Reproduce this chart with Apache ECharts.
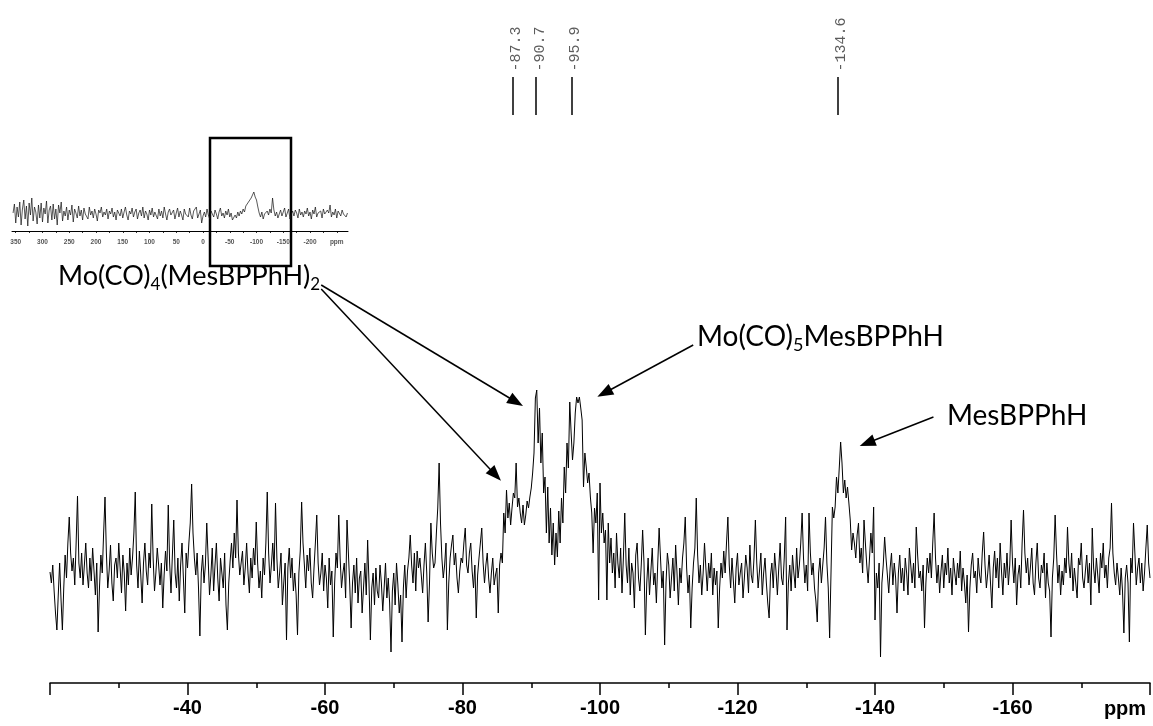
<!DOCTYPE html>
<html><head><meta charset="utf-8">
<script src="https://cdn.jsdelivr.net/npm/echarts@6.0.0/dist/echarts.min.js"></script>
<style>html,body{margin:0;padding:0;background:#fff}#c{width:1153px;height:726px}</style>
</head><body><div id="c"></div>
<script>
// ---- main spectrum (ppm axis, 0.2 ppm sampling) ----
const ppmStart = -20;
const ppmStep = -0.2;
const intensity = [
111,100,118,92,70,53,88,120,84,53,95,128,105,140,166,130,112,125,98,140,
187,120,105,130,98,118,140,110,95,125,102,135,112,88,120,51,96,128,110,150,
186,130,95,112,138,100,82,118,125,105,140,115,90,128,110,72,120,98,135,108,
125,150,191,118,95,132,108,80,120,140,112,98,130,115,179,125,92,110,135,118,
98,120,75,108,132,112,178,120,90,128,163,110,95,125,82,118,140,105,70,130,
115,140,160,199,150,125,108,130,95,47,110,128,100,118,160,125,88,108,135,92,
118,140,105,82,125,110,95,130,78,53,100,122,140,115,150,125,183,130,108,120,
132,98,115,140,110,90,125,105,135,118,161,120,95,112,85,125,108,140,191,130,
100,118,140,112,180,125,95,110,130,78,100,120,43,115,135,105,125,92,110,88,
48,110,132,181,140,118,95,128,112,135,100,85,115,140,168,120,98,110,130,92,
118,105,75,125,98,112,46,100,130,115,168,125,95,110,120,85,163,130,98,55,
100,118,90,125,80,105,112,70,95,120,88,143,100,43,95,110,78,115,92,85,
118,100,72,95,120,85,105,80,31,92,110,78,120,98,70,88,41,95,118,85,
112,125,148,118,100,130,92,132,115,125,108,90,118,140,110,61,100,160,130,115,
120,150,175,220,160,125,105,118,140,53,100,125,138,148,118,130,105,90,112,125,
120,140,155,118,110,130,140,112,95,118,65,108,125,140,155,120,100,118,130,105,
90,110,125,98,108,115,70,118,130,120,170,150,193,165,180,158,175,190,185,220,
176,185,170,160,178,158,168,182,175,186,195,210,230,285,293,240,275,220,250,190,
206,150,196,140,175,128,160,118,150,126,172,140,185,160,216,190,240,215,281,250,
223,240,270,286,280,286,275,263,196,230,216,200,210,186,170,130,175,160,190,83,
200,150,170,140,153,83,160,120,145,110,130,95,150,120,105,135,90,125,170,118,
100,135,88,120,110,75,128,140,105,92,118,153,120,48,100,125,88,112,135,98,
110,80,120,155,125,95,112,38,100,130,118,85,105,125,92,138,110,78,115,100,
125,140,166,115,90,108,55,95,120,135,185,128,100,118,88,110,140,115,92,120,
105,130,88,115,98,112,55,95,120,105,132,110,140,166,118,95,125,102,80,115,
130,98,110,120,85,105,128,115,90,138,108,100,125,163,120,95,112,130,88,110,
125,100,80,65,108,120,95,130,112,88,115,140,105,98,125,166,53,100,118,92,
128,110,95,135,105,118,140,170,125,100,118,92,170,130,108,120,95,82,61,110,
125,100,118,135,166,120,95,45,110,176,165,176,206,190,215,241,220,190,203,185,
196,180,163,133,150,140,125,148,160,120,135,110,163,140,118,100,125,150,130,176,
63,110,95,120,26,100,118,146,125,108,90,115,130,98,120,105,70,110,128,100,
115,92,125,110,88,135,118,100,120,95,156,128,105,112,92,118,55,100,125,110,
130,105,140,170,125,100,118,90,112,128,95,120,108,135,100,115,88,125,110,98,
120,105,132,92,115,100,80,108,51,95,118,130,105,112,90,125,108,100,130,151,
118,95,110,128,100,75,115,132,105,125,95,140,112,88,120,105,130,98,118,163,
120,100,125,78,108,118,95,140,173,130,110,125,98,115,135,100,88,120,140,105,
95,118,110,130,85,120,100,92,46,105,125,168,130,100,118,88,112,98,125,110,
156,120,105,130,92,115,100,85,125,118,140,105,95,112,128,100,120,78,155,115,
100,125,108,90,130,115,140,105,118,95,125,135,180,130,110,98,120,105,88,115,
92,50,105,118,100,41,125,110,160,130,98,115,125,100,120,92,110,135,158,120,105
];
// ---- inset (full range) spectrum, 2.5 ppm sampling ----
const insetPpmStart = 355;
const insetPpmStep = -2.5;
const insetIntensity = [
18,27,8,24,14,29,6,22,31,12,
25,5,28,16,33,10,24,19,7,26,
13,28,9,23,17,30,8,21,25,11,
27,12,22,6,26,18,29,10,20,15,
24,11,21,16,26,9,22,18,13,25,
15,21,11,23,17,19,12,24,16,20,
13,22,17,10,21,18,24,14,19,16,
22,12,20,17,23,14,19,11,21,18,
15,22,13,19,24,16,11,20,17,23,
14,19,22,12,18,21,15,24,13,20,
17,11,21,16,23,14,19,18,12,22,
15,20,13,24,17,11,19,22,16,18,
21,12,18,23,14,20,16,11,22,17,
19,14,23,16,12,20,18,24,13,17,
21,8,15,19,14,22,16,12,20,17,
14,21,17,12,19,23,15,18,13,20,
16,22,14,18,11,10,16,13,19,15,
20,17,22,19,25,23,29,27,33,36,
39,34,31,24,18,14,19,12,17,15,
20,16,22,18,33,21,15,19,13,17,
21,15,19,23,14,18,22,12,17,20,
15,21,18,13,22,16,19,14,20,17,
23,15,19,12,21,17,24,14,18,16,
20,13,22,17,15,21,18,26,14,19,
16,22,13,20,18,15,21,17,19,14,
18
];
const insetLabelValues = [350,300,250,200,150,100,50,0,-50,-100,-150,-200,-250];
const insetTickValues = [350,325,300,275,250,225,200,175,150,125,100,75,50,25,0,-25,-50,-75,-100,-125,-150,-175,-200,-225,-250];
// ---- peak picks ----
const peakPpm = [-87.3, -90.7, -95.9, -134.6];
// ---- annotation labels ----
const labelComplex2 = ['Mo(CO)', '4', '(MesBPPhH)', '2'];
const labelComplex1 = ['Mo(CO)', '5', 'MesBPPhH'];
const labelLigand = 'MesBPPhH';

// layout config (annotation geometry, not data)
const arrows = [
  {from: [-59.45, 398], to: [-87.8, 281]},
  {from: [-59.45, 394], to: [-84.8, 208]},
  {from: [-113.56, 338], to: [-100.64, 290]},
  {from: [-148.5, 266], to: [-138.86, 240]}
];
const peakLineBottom = 568, peakLineTop = 606, peakLabelBase = 615;

const mainData = intensity.map((v, i) => [+(ppmStart + ppmStep * i).toFixed(2), v]);
const insetData = insetIntensity.map((v, i) => [+(insetPpmStart + insetPpmStep * i).toFixed(2), v]);

const chart = echarts.init(document.getElementById('c'), null, {renderer: 'canvas'});
const annFont = 'Lato';
const nStyle = {fontSize: 28, fontFamily: annFont, fill: '#000', lineHeight: 34};
const sStyle = {fontSize: 18, fontFamily: annFont, fill: '#000', lineHeight: 34, verticalAlign: 'bottom'};
const nStyleB = {fontSize: 27, fontFamily: annFont, fill: '#000', lineHeight: 34};
const sStyleB = {fontSize: 17, fontFamily: annFont, fill: '#000', lineHeight: 34, verticalAlign: 'bottom'};

chart.setOption({
  animation: false,
  backgroundColor: '#fff',
  grid: [
    {left: 50, right: 0, top: 0, bottom: 43},
    {left: 12, right: 805, top: 171, bottom: 495}
  ],
  xAxis: [
    {
      type: 'value', gridIndex: 0, min: -180, max: -20, interval: 20, inverse: true,
      axisLine: {onZero: false, lineStyle: {color: '#000', width: 1.5}},
      axisTick: {length: 12, lineStyle: {color: '#000', width: 1.5}},
      minorTick: {show: true, splitNumber: 2, length: 5, lineStyle: {color: '#000', width: 1.5}},
      splitLine: {show: false}, minorSplitLine: {show: false},
      axisLabel: {
        fontFamily: 'Liberation Sans', fontWeight: 'bold', fontSize: 20, color: '#000', margin: 15,
        formatter: v => (v === -20 || v === -180) ? '' : String(v)
      }
    },
    {
      type: 'value', gridIndex: 1, min: -271, max: 357, inverse: true,
      axisLine: {onZero: false, lineStyle: {color: '#000', width: 1}},
      axisTick: {customValues: insetTickValues, length: 2, lineStyle: {color: '#000', width: 0.8}},
      splitLine: {show: false},
      axisLabel: {
        customValues: insetLabelValues, fontFamily: 'Liberation Sans', fontWeight: 'bold',
        fontSize: 6.5, color: '#555', margin: 8,
        formatter: v => v === -250 ? 'ppm' : String(v)
      }
    }
  ],
  yAxis: [
    {type: 'value', gridIndex: 0, min: 0, max: 683, show: false},
    {type: 'value', gridIndex: 1, min: 0, max: 60, show: false}
  ],
  series: [
    {
      type: 'line', xAxisIndex: 0, yAxisIndex: 0, data: mainData, showSymbol: false,
      lineStyle: {color: '#000', width: 1}, silent: true,
      markLine: {
        silent: true, symbol: ['none', 'triangle'], symbolSize: [12, 16],
        lineStyle: {color: '#000', width: 1.5, type: 'solid'},
        label: {show: false}, emphasis: {disabled: true},
        data: arrows.map(a => [{coord: a.from}, {coord: a.to}])
      }
    },
    {
      type: 'scatter', xAxisIndex: 0, yAxisIndex: 0, symbol: 'circle', symbolSize: 1,
      itemStyle: {color: 'rgba(0,0,0,0)'}, silent: true,
      data: peakPpm.map(p => [p, peakLabelBase]),
      label: {
        show: true, position: [4, 4], rotate: 90, align: 'left', verticalAlign: 'middle',
        fontFamily: 'Liberation Mono', fontSize: 15, color: '#333',
        formatter: p => p.value[0].toFixed(1)
      },
      markLine: {
        silent: true, symbol: ['none', 'none'],
        lineStyle: {color: '#000', width: 1.5, type: 'solid'},
        label: {show: false}, emphasis: {disabled: true},
        data: peakPpm.map(p => [{coord: [p, peakLineBottom]}, {coord: [p, peakLineTop]}])
      }
    },
    {
      type: 'line', xAxisIndex: 1, yAxisIndex: 1, data: insetData, showSymbol: false,
      lineStyle: {color: '#111', width: 0.7}, silent: true
    }
  ],
  graphic: [
    {
      type: 'text', x: 58, y: 276,
      style: {
        text: `{n|${labelComplex2[0]}}{s|${labelComplex2[1]}}{n|${labelComplex2[2]}}{s|${labelComplex2[3]}}`,
        rich: {n: nStyleB, s: sStyleB}, verticalAlign: 'middle', align: 'left'
      }
    },
    {
      type: 'text', x: 697, y: 337,
      style: {
        text: `{n|${labelComplex1[0]}}{s|${labelComplex1[1]}}{n|${labelComplex1[2]}}`,
        rich: {n: nStyle, s: sStyle}, verticalAlign: 'middle', align: 'left'
      }
    },
    {
      type: 'text', x: 947, y: 416,
      style: {text: `{n|${labelLigand}}`, rich: {n: nStyle}, verticalAlign: 'middle', align: 'left'}
    },
    {
      type: 'text', x: 1125, y: 709,
      style: {text: 'ppm', font: 'bold 20px "Liberation Sans"', fill: '#000', align: 'center', verticalAlign: 'middle'}
    },
    {
      type: 'rect', shape: {x: 210, y: 138, width: 81, height: 128},
      style: {fill: 'none', stroke: '#000', lineWidth: 2.5}
    }
  ]
});
</script>
</body></html>
